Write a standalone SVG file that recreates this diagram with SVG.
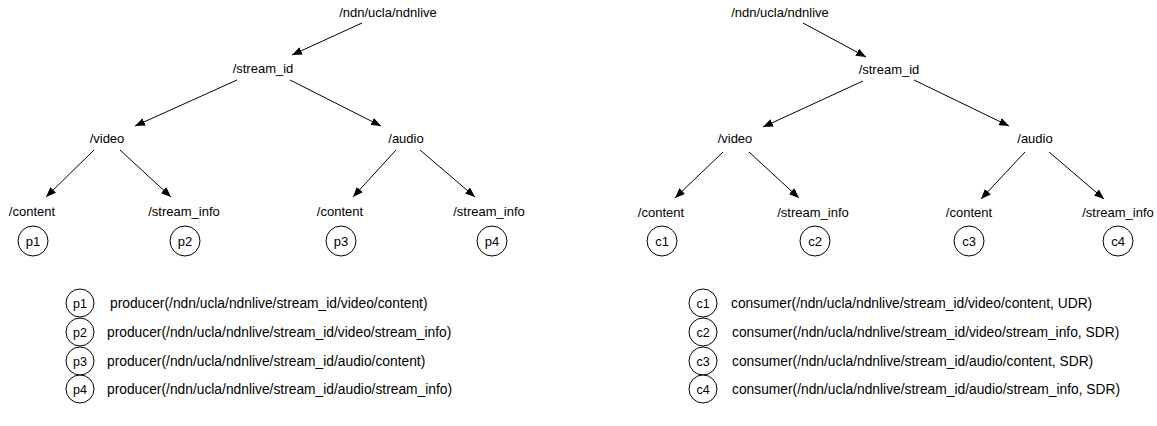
<svg xmlns="http://www.w3.org/2000/svg" width="1157" height="426" viewBox="0 0 1157 426">
<style>
.lbl{font-family:"Liberation Sans",Arial,sans-serif;font-size:13px;fill:#000;text-anchor:middle}
.cl{font-family:"Liberation Sans",Arial,sans-serif;font-size:13px;fill:#000;text-anchor:middle}
.lg{font-family:"Liberation Sans",Arial,sans-serif;font-size:13.8px;fill:#000}
.lgc{font-family:"Liberation Sans",Arial,sans-serif;font-size:12.5px;fill:#000;text-anchor:middle}
circle{fill:#fff;stroke:#000;stroke-width:1}
.e line{stroke:#000;stroke-width:1;marker-end:url(#ah)}
</style>
<defs>
<marker id="ah" viewBox="0 0 10 8" refX="10" refY="4" markerWidth="10" markerHeight="8" markerUnits="userSpaceOnUse" orient="auto">
<path d="M0,0 L10,4 L0,8 Z" fill="#000"/>
</marker>
</defs>
<rect width="1157" height="426" fill="#fff"/>
<g id="connectors" class="e">
<line x1="362" y1="23" x2="292" y2="55"/>
<line x1="237" y1="80" x2="135" y2="126"/>
<line x1="290" y1="80" x2="381" y2="126"/>
<line x1="94" y1="150" x2="46" y2="197"/>
<line x1="120" y1="150" x2="171" y2="197"/>
<line x1="396" y1="150" x2="353" y2="197"/>
<line x1="420" y1="150" x2="475" y2="197"/>
<line x1="803" y1="23" x2="866" y2="57"/>
<line x1="863" y1="81" x2="763" y2="127"/>
<line x1="914" y1="80" x2="1009" y2="126"/>
<line x1="723" y1="152" x2="675" y2="198"/>
<line x1="749" y1="152" x2="799" y2="198"/>
<line x1="1025" y1="152" x2="981" y2="199"/>
<line x1="1049" y1="152" x2="1104" y2="199"/>
</g>
<g id="L-root"><text class="lbl" x="388" y="16.5">/ndn/ucla/ndnlive</text></g>
<g id="L-stream"><text class="lbl" x="263" y="72.5">/stream_id</text></g>
<g id="L-video"><text class="lbl" x="107" y="142.5">/video</text></g>
<g id="L-audio"><text class="lbl" x="406" y="142.5">/audio</text></g>
<g id="L-vcontent"><text class="lbl" x="32" y="215.5">/content</text></g>
<g id="L-vinfo"><text class="lbl" x="184" y="215.5">/stream_info</text></g>
<g id="L-acontent"><text class="lbl" x="340" y="215.5">/content</text></g>
<g id="L-ainfo"><text class="lbl" x="489" y="215.5">/stream_info</text></g>
<g id="p1"><circle cx="33" cy="241" r="15"/><text class="cl" x="33" y="245.5">p1</text></g>
<g id="p2"><circle cx="185" cy="241" r="15"/><text class="cl" x="185" y="245.5">p2</text></g>
<g id="p3"><circle cx="341" cy="241" r="15"/><text class="cl" x="341" y="245.5">p3</text></g>
<g id="p4"><circle cx="492" cy="241" r="15"/><text class="cl" x="492" y="245.5">p4</text></g>
<g id="R-root"><text class="lbl" x="780" y="16.5">/ndn/ucla/ndnlive</text></g>
<g id="R-stream"><text class="lbl" x="889" y="73.5">/stream_id</text></g>
<g id="R-video"><text class="lbl" x="735" y="142.5">/video</text></g>
<g id="R-audio"><text class="lbl" x="1035" y="142.5">/audio</text></g>
<g id="R-vcontent"><text class="lbl" x="661" y="216.5">/content</text></g>
<g id="R-vinfo"><text class="lbl" x="813" y="216.5">/stream_info</text></g>
<g id="R-acontent"><text class="lbl" x="969" y="216.5">/content</text></g>
<g id="R-ainfo"><text class="lbl" x="1118" y="216.5">/stream_info</text></g>
<g id="c1"><circle cx="662" cy="241" r="15"/><text class="cl" x="662" y="245.5">c1</text></g>
<g id="c2"><circle cx="815" cy="241" r="15"/><text class="cl" x="815" y="245.5">c2</text></g>
<g id="c3"><circle cx="969" cy="241" r="15"/><text class="cl" x="969" y="245.5">c3</text></g>
<g id="c4"><circle cx="1118" cy="241" r="15"/><text class="cl" x="1118" y="245.5">c4</text></g>
<g id="legend-p1"><circle cx="80" cy="303" r="14"/><text class="lgc" x="80" y="307.5">p1</text><text class="lg" x="110" y="307.5">producer(/ndn/ucla/ndnlive/stream_id/video/content)</text></g>
<g id="legend-p2"><circle cx="80" cy="332" r="14"/><text class="lgc" x="80" y="336.5">p2</text><text class="lg" x="107" y="336.5">producer(/ndn/ucla/ndnlive/stream_id/video/stream_info)</text></g>
<g id="legend-p3"><circle cx="80" cy="361" r="14"/><text class="lgc" x="80" y="365.5">p3</text><text class="lg" x="107" y="365.5">producer(/ndn/ucla/ndnlive/stream_id/audio/content)</text></g>
<g id="legend-p4"><circle cx="80" cy="389" r="14"/><text class="lgc" x="80" y="393.5">p4</text><text class="lg" x="107" y="393.5">producer(/ndn/ucla/ndnlive/stream_id/audio/stream_info)</text></g>
<g id="legend-c1"><circle cx="703" cy="303" r="14"/><text class="lgc" x="703" y="307.5">c1</text><text class="lg" x="731" y="307.5">consumer(/ndn/ucla/ndnlive/stream_id/video/content, UDR)</text></g>
<g id="legend-c2"><circle cx="703" cy="332" r="14"/><text class="lgc" x="703" y="336.5">c2</text><text class="lg" x="732" y="336.5">consumer(/ndn/ucla/ndnlive/stream_id/video/stream_info, SDR)</text></g>
<g id="legend-c3"><circle cx="703" cy="361" r="14"/><text class="lgc" x="703" y="365.5">c3</text><text class="lg" x="732" y="365.5">consumer(/ndn/ucla/ndnlive/stream_id/audio/content, SDR)</text></g>
<g id="legend-c4"><circle cx="703" cy="389" r="14"/><text class="lgc" x="703" y="393.5">c4</text><text class="lg" x="732" y="393.5">consumer(/ndn/ucla/ndnlive/stream_id/audio/stream_info, SDR)</text></g>
</svg>
